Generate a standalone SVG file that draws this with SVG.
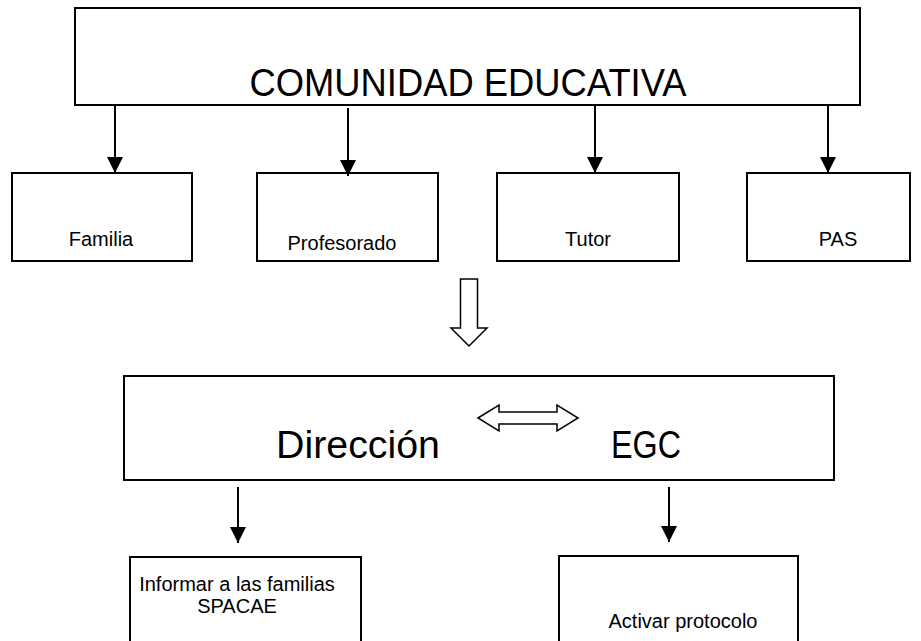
<svg xmlns="http://www.w3.org/2000/svg" width="921" height="641" viewBox="0 0 921 641">
<defs>
<marker id="ah" markerUnits="userSpaceOnUse" markerWidth="16" markerHeight="16" viewBox="0 0 16 16" refX="16" refY="8" orient="auto">
<path d="M0,0 L16,8 L0,16 Z" fill="#000"/>
</marker>
<style>
.box{fill:#fff;stroke:#000;stroke-width:2}
.t{font-family:"Liberation Sans",Arial,sans-serif;fill:#000;text-anchor:middle}
.s{font-size:20px}
.l{font-size:39px}
.c{stroke:#000;stroke-width:2;fill:none}
.blk{fill:#fff;stroke:#000;stroke-width:1.5;stroke-linejoin:miter}
</style>
</defs>
<rect width="921" height="641" fill="#fff"/>
<g id="comunidad">
<rect class="box" x="75" y="8" width="785" height="97"/>
<text class="t l" x="468" y="96" textLength="437" lengthAdjust="spacingAndGlyphs">COMUNIDAD EDUCATIVA</text>
</g>
<g id="familia">
<rect class="box" x="12" y="173" width="180" height="88"/>
<text class="t s" x="101" y="246">Familia</text>
</g>
<g id="profesorado">
<rect class="box" x="257" y="173" width="181" height="88"/>
<text class="t s" x="342" y="250">Profesorado</text>
</g>
<g id="tutor">
<rect class="box" x="497" y="173" width="182" height="88"/>
<text class="t s" x="588" y="246">Tutor</text>
</g>
<g id="pas">
<rect class="box" x="747" y="173" width="163" height="88"/>
<text class="t s" x="838" y="246">PAS</text>
</g>
<g id="direccion-egc">
<rect class="box" x="124" y="376" width="710" height="104"/>
<text class="t l" x="358" y="458" textLength="164" lengthAdjust="spacingAndGlyphs">Dirección</text>
<text class="t l" x="646" y="458" textLength="70" lengthAdjust="spacingAndGlyphs">EGC</text>
</g>
<g id="informar">
<path class="box" d="M130,650 L130,557 L361,557 L361,650"/>
<text class="t s" x="237" y="591">Informar a las familias</text>
<text class="t s" x="237" y="613">SPACAE</text>
</g>
<g id="activar">
<path class="box" d="M559,650 L559,556 L798,556 L798,650"/>
<text class="t s" x="683" y="628">Activar protocolo</text>
</g>
<g id="connectors">
<line class="c" x1="115" y1="106" x2="115" y2="173" marker-end="url(#ah)"/>
<line class="c" x1="348" y1="108" x2="348" y2="176" marker-end="url(#ah)"/>
<line class="c" x1="595" y1="106" x2="595" y2="173" marker-end="url(#ah)"/>
<line class="c" x1="828" y1="106" x2="828" y2="173" marker-end="url(#ah)"/>
<path class="blk" d="M460.5,279 L477.5,279 L477.5,328 L487,328 L469,346 L451,328 L460.5,328 Z"/>
<path class="blk" d="M478,418 L499,405 L499,412 L557,412 L557,405 L578,418 L557,431 L557,424 L499,424 L499,431 Z"/>
<line class="c" x1="238" y1="487" x2="238" y2="543" marker-end="url(#ah)"/>
<line class="c" x1="669" y1="487" x2="669" y2="542" marker-end="url(#ah)"/>
</g>
</svg>
